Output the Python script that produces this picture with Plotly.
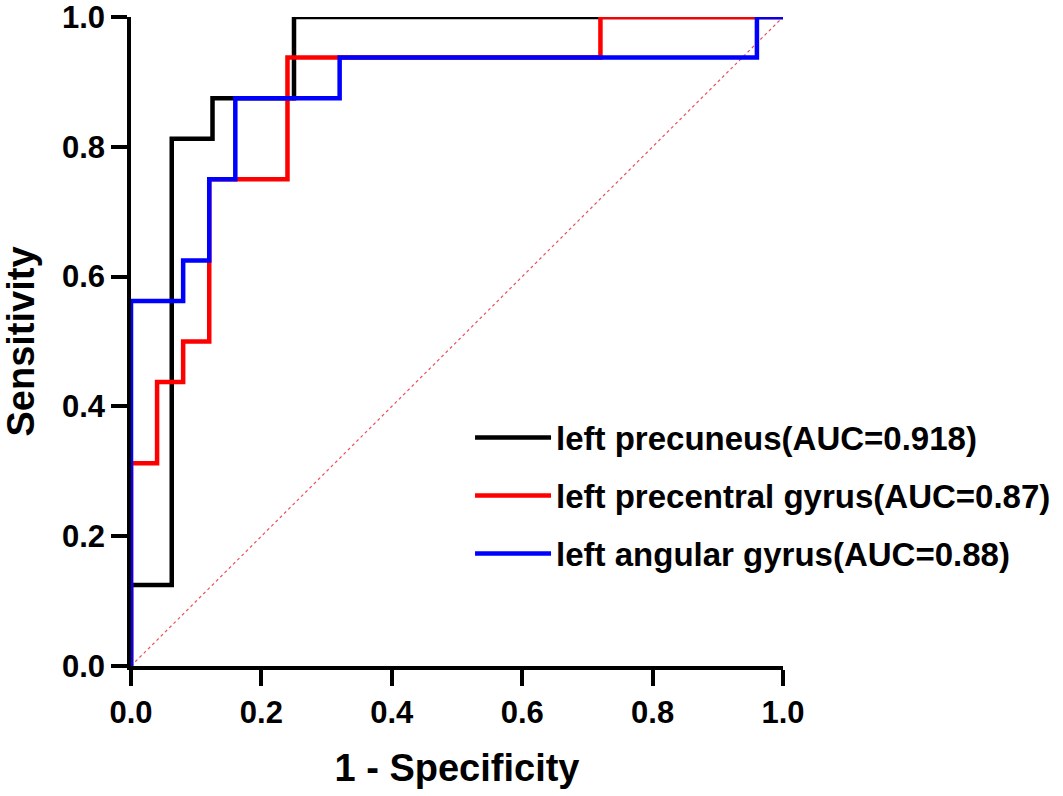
import plotly.graph_objects as go

# ROC step curves (1 - specificity, sensitivity)
precuneus_fpr = [0, 0, 0.0625, 0.0625, 0.125, 0.125, 0.25, 0.25, 1.0]
precuneus_tpr = [0, 0.125, 0.125, 0.8125, 0.8125, 0.875, 0.875, 1.0, 1.0]

precentral_fpr = [0, 0, 0.04, 0.04, 0.08, 0.08, 0.12, 0.12, 0.24, 0.24, 0.72, 0.72, 1.0]
precentral_tpr = [0, 0.3125, 0.3125, 0.4375, 0.4375, 0.5, 0.5, 0.75, 0.75, 0.9375, 0.9375, 1.0, 1.0]

angular_fpr = [0, 0, 0.08, 0.08, 0.12, 0.12, 0.16, 0.16, 0.32, 0.32, 0.96, 0.96, 1.0]
angular_tpr = [0, 0.5625, 0.5625, 0.625, 0.625, 0.75, 0.75, 0.875, 0.875, 0.9375, 0.9375, 1.0, 1.0]

names = ["left precuneus(AUC=0.918)", "left precentral gyrus(AUC=0.87)", "left angular gyrus(AUC=0.88)"]
colors = ["#000000", "#ff0000", "#0000ff"]

fig = go.Figure()

# reference diagonal
fig.add_trace(go.Scatter(x=[0, 1], y=[0, 1], mode="lines", showlegend=False, cliponaxis=False,
	line=dict(color="#e8505b", width=1.2, dash="dot")))

curves = [(precuneus_fpr, precuneus_tpr), (precentral_fpr, precentral_tpr), (angular_fpr, angular_tpr)]
for i, (fx, fy) in enumerate(curves):
	fig.add_trace(go.Scatter(x=fx, y=fy, mode="lines", name=names[i], legendgroup="g%d" % i,
		cliponaxis=False, line=dict(color=colors[i], width=4.5)))

axis_style = dict(range=[0, 1], dtick=0.2, tickformat=".1f", showgrid=False, zeroline=False,
	showline=True, linecolor="#000000", linewidth=3.5, ticks="outside", ticklen=16, tickwidth=3.5,
	tickcolor="#000000", tickfont=dict(size=31, color="#000000"), automargin=False,
	ticklabeloverflow="allow")

fig.update_xaxes(**axis_style, title=dict(text="1 - Specificity", font=dict(size=38), standoff=26))
fig.update_yaxes(**axis_style, title=dict(text="Sensitivity", font=dict(size=38), standoff=17))

fig.update_layout(autosize=False, width=1063, height=796,
	margin=dict(l=131, r=280, t=17, b=130, autoexpand=False),
	plot_bgcolor="white", paper_bgcolor="white",
	font=dict(family="Liberation Sans, Arial, sans-serif", color="#000000", weight="bold"),
	legend=dict(x=0.52, y=0.395, xanchor="left", yanchor="top", bgcolor="rgba(0,0,0,0)",
		font=dict(size=33), tracegroupgap=12, itemwidth=76))

# drop the default 8px body margin so the figure fills the window
fig.write_html("out.html", config={"displayModeBar": False},
	post_script="document.body.style.margin='0';")
